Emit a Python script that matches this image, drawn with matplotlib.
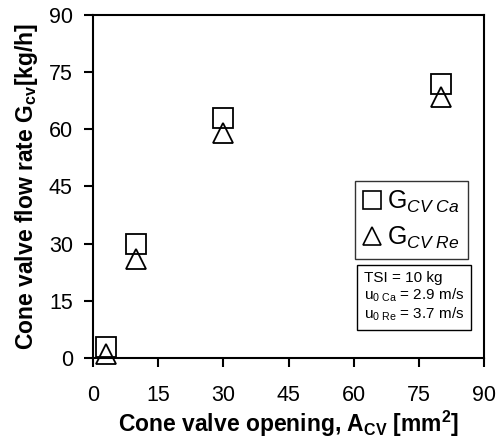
import matplotlib
matplotlib.use("Agg")
import matplotlib.pyplot as plt
from matplotlib.lines import Line2D

plt.rcParams['font.family'] = ['Liberation Sans', 'DejaVu Sans']
plt.rcParams['mathtext.fontset'] = 'custom'
plt.rcParams['mathtext.rm'] = 'Liberation Sans'
plt.rcParams['mathtext.it'] = 'Liberation Sans:italic'
plt.rcParams['mathtext.bf'] = 'Liberation Sans:bold'

area = [3, 10, 30, 80]
g_ca = [3, 30, 63, 72]
g_re = [1, 26, 59, 68.5]
ticks = [0, 15, 30, 45, 60, 75, 90]

fig = plt.figure(figsize=(4.98, 4.43), dpi=100)
ax = fig.add_axes([0.1867, 0.1919, 0.7853, 0.7743])

ax.plot(area, g_ca, linestyle='none', marker='s', markersize=14.5,
        markerfacecolor='none', markeredgecolor='black', markeredgewidth=1.3, clip_on=False)
ax.plot(area, g_re, linestyle='none', marker='^', markersize=14.5,
        markerfacecolor='none', markeredgecolor='black', markeredgewidth=1.3, clip_on=False)

ax.set_xlim(0, 90)
ax.set_ylim(0, 90)
ax.set_xticks(ticks)
ax.set_yticks(ticks)
ax.tick_params(direction='out', length=6.5, width=1.5, labelsize=15.5)
ax.tick_params(axis='x', pad=13)
ax.tick_params(axis='y', pad=8)
for s in ax.spines.values():
    s.set_linewidth(1.5)

ax.set_xlabel(r'Cone valve opening, A$_{\mathbf{CV}}$ [mm$^{\mathbf{2}}$]',
              fontsize=16.5, fontweight='bold', labelpad=2)
ax.set_ylabel(r'Cone valve flow rate G$_{\mathbf{cv}}$[kg/h]',
              fontsize=16.5, fontweight='bold', labelpad=6)

h1 = Line2D([], [], linestyle='none', marker='s', markersize=13,
            markerfacecolor='none', markeredgecolor='black', markeredgewidth=1.2)
h2 = Line2D([], [], linestyle='none', marker='^', markersize=13,
            markerfacecolor='none', markeredgecolor='black', markeredgewidth=1.2)
leg = ax.legend([h1, h2], [r'G$_{\mathit{CV\ Ca}}$', r'G$_{\mathit{CV\ Re}}$'],
                loc='upper left', bbox_to_anchor=(0.67, 0.515),
                fontsize=18, frameon=True, fancybox=False, edgecolor='black',
                handlelength=0.75, handletextpad=0.25, borderpad=0.3,
                labelspacing=0.4, borderaxespad=0)
leg.get_frame().set_linewidth(1.0)

ax.text(0.693, 0.255,
        'TSI = 10 kg\n' + r'u$_{\mathrm{0\ Ca}}$ = 2.9 m/s' + '\n' + r'u$_{\mathrm{0\ Re}}$ = 3.7 m/s',
        transform=ax.transAxes, fontsize=11, va='top', ha='left', linespacing=1.15,
        bbox=dict(boxstyle='square,pad=0.45', facecolor='white', edgecolor='black', linewidth=1.0))

fig.savefig('out.png', dpi=100)
